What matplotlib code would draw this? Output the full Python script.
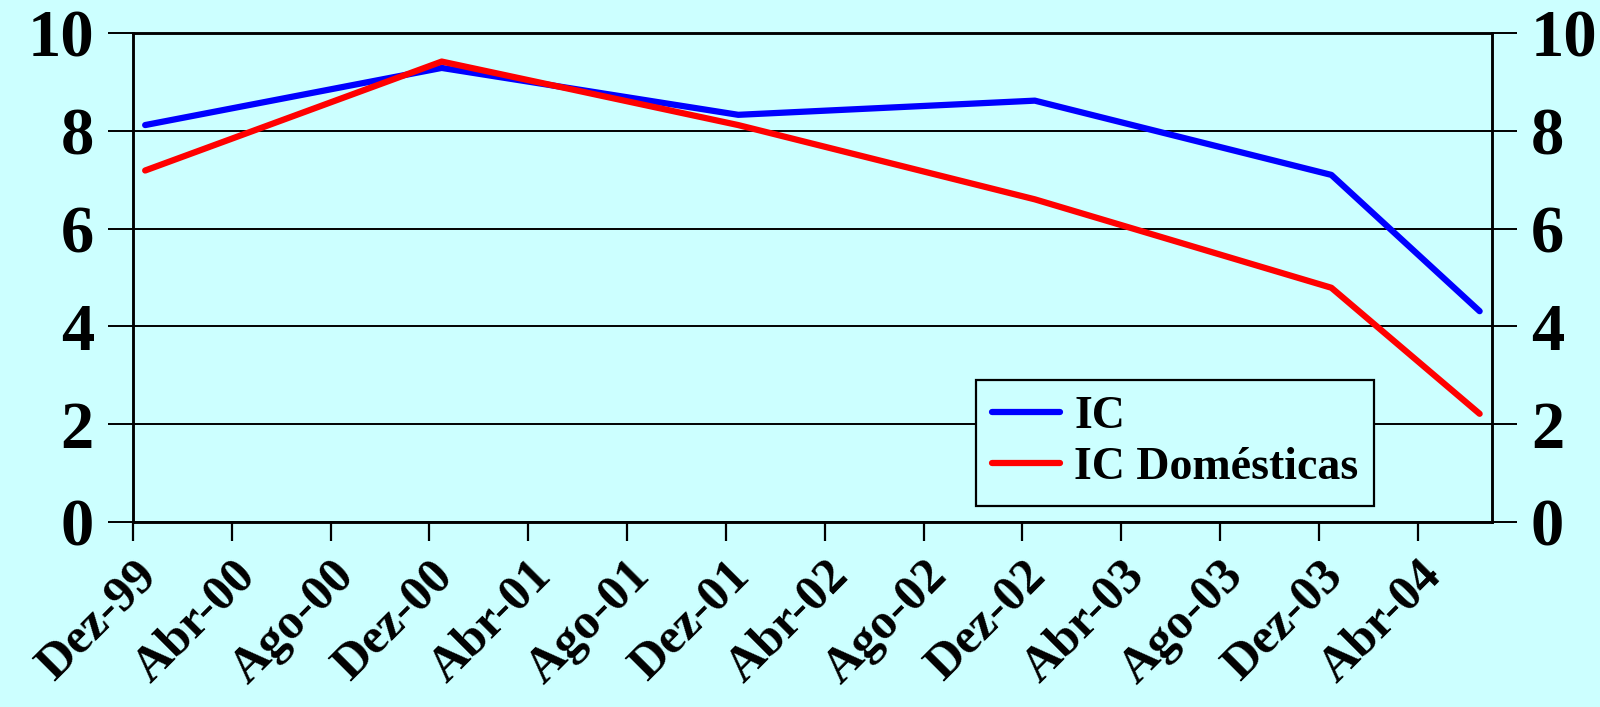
import matplotlib.pyplot as plt
import numpy as np

# meses contados a partir de Dez-99
meses = [0, 12, 24, 36, 48, 54]
ic = [8.12, 9.29, 8.33, 8.62, 7.10, 4.31]
ic_domesticas = [7.19, 9.42, 8.12, 6.60, 4.79, 2.21]

rotulos_x = ['Dez-99', 'Abr-00', 'Ago-00', 'Dez-00', 'Abr-01', 'Ago-01', 'Dez-01',
             'Abr-02', 'Ago-02', 'Dez-02', 'Abr-03', 'Ago-03', 'Dez-03', 'Abr-04']
y_ticks = [0, 2, 4, 6, 8, 10]

fundo = '#CCFFFF'
fonte = 'Liberation Serif'


def run():
    fig = plt.figure(figsize=(16, 7.07), dpi=100, facecolor=fundo)
    ax = fig.add_axes([0.083, 0.262, 0.8495, 0.691])
    ax.set_facecolor(fundo)

    ax.plot(meses, ic, color='#0000FF', lw=4.5, label='IC', solid_capstyle='round', zorder=3)
    ax.plot(meses, ic_domesticas, color='#FF0000', lw=4.5, label='IC Domésticas',
            solid_capstyle='round', zorder=4)

    ax.set_xlim(-0.5, 54.5)
    ax.set_ylim(0, 10)

    # grade horizontal
    for v in y_ticks:
        ax.axhline(v, color='black', lw=1.4, zorder=1)

    ax.set_xticks(np.arange(len(rotulos_x)) * 4 - 0.5)
    ax.set_xticklabels(rotulos_x, rotation=45, ha='right', va='top',
                       rotation_mode='anchor', fontsize=36, fontweight='bold',
                       family=fonte)
    ax.tick_params(axis='x', direction='out', length=14, width=1.6, pad=8)

    ax.set_yticks(y_ticks)
    ax.set_yticklabels([str(v) for v in y_ticks], fontsize=48, fontweight='bold', family=fonte)
    ax.tick_params(axis='y', direction='out', length=18, width=1.4, pad=10)

    ax2 = ax.twinx()
    ax2.set_ylim(0, 10)
    ax2.set_yticks(y_ticks)
    ax2.set_yticklabels([str(v) for v in y_ticks], fontsize=48, fontweight='bold', family=fonte)
    ax2.tick_params(axis='y', direction='out', length=18, width=1.4, pad=10)

    for a in (ax, ax2):
        for s in a.spines.values():
            s.set_color('black')
            s.set_linewidth(1.8)

    leg = ax.legend(loc='upper left', bbox_to_anchor=(0.62, 0.29), frameon=True,
                    fancybox=False, edgecolor='black', facecolor=fundo,
                    prop={'family': fonte, 'weight': 'bold', 'size': 33},
                    handlelength=1.5, handletextpad=0.3, borderpad=0.35,
                    labelspacing=0.2, borderaxespad=0)
    leg.get_frame().set_linewidth(1.6)
    leg.get_frame().set_alpha(1)
    leg.set_zorder(5)

    fig.savefig('out.png', dpi=100, facecolor=fundo)


if __name__ == '__main__':
    run()
